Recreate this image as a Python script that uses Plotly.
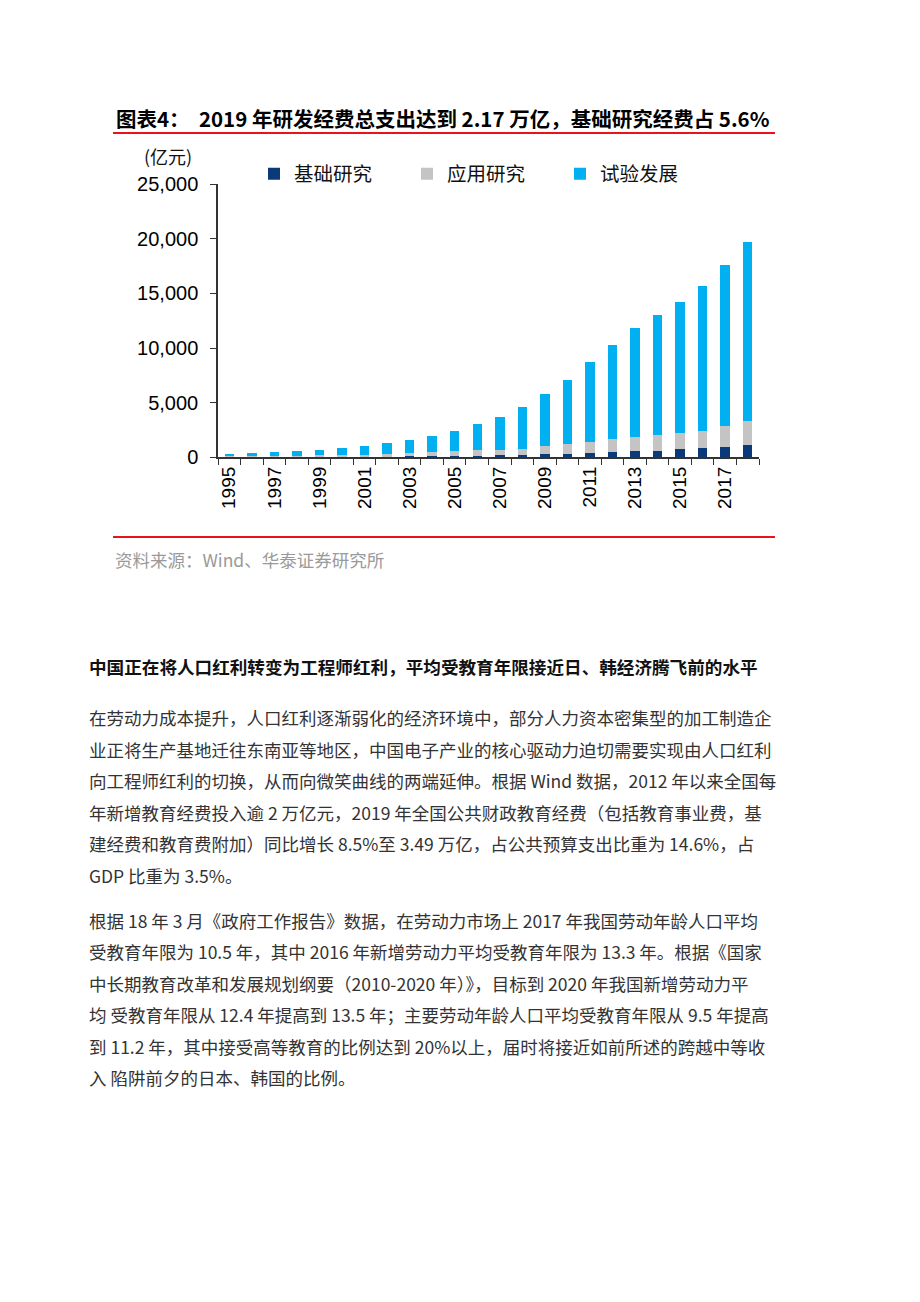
import plotly.graph_objects as go

# ---------------- data ----------------
years = ["1995", "1996", "1997", "1998", "1999", "2000", "2001", "2002", "2003", "2004",
         "2005", "2006", "2007", "2008", "2009", "2010", "2011", "2012", "2013", "2014",
         "2015", "2016", "2017", "2018"]
tick_labels = ["1995", "", "1997", "", "1999", "", "2001", "", "2003", "", "2005", "",
               "2007", "", "2009", "", "2011", "", "2013", "", "2015", "", "2017", ""]
basic = [18.1, 20.2, 27.4, 28.9, 33.9, 46.7, 55.6, 73.8, 87.7, 117.2, 131.2, 155.8,
         174.5, 220.8, 270.3, 324.5, 411.8, 498.8, 555.0, 613.5, 716.1, 822.9, 975.5, 1090.4]
applied = [92.0, 99.1, 132.5, 124.6, 151.6, 151.9, 184.9, 246.7, 311.4, 400.5, 433.5, 489.0,
           492.9, 575.2, 730.8, 893.8, 1028.4, 1162.0, 1269.1, 1398.5, 1528.6, 1610.5, 1849.2, 2190.9]
experimental = [238.6, 285.2, 349.3, 397.6, 493.4, 697.1, 802.0, 967.1, 1140.5, 1448.6, 1885.3,
                2358.3, 3042.8, 3820.0, 4801.0, 5844.3, 7246.8, 8637.6, 10022.5, 11003.6,
                11925.2, 13243.3, 14781.4, 16396.6]
series_names = ["基础研究", "应用研究", "试验发展"]

title_text = "图表4：  2019 年研发经费总支出达到 2.17 万亿，基础研究经费占 5.6%"
unit_text = "(亿元)"
source_text = "资料来源：Wind、华泰证券研究所"
heading_text = "中国正在将人口红利转变为工程师红利，平均受教育年限接近日、韩经济腾飞前的水平"
para1 = [
    "在劳动力成本提升，人口红利逐渐弱化的经济环境中，部分人力资本密集型的加工制造企",
    "业正将生产基地迁往东南亚等地区，中国电子产业的核心驱动力迫切需要实现由人口红利",
    "向工程师红利的切换，从而向微笑曲线的两端延伸。根据 Wind 数据，2012 年以来全国每",
    "年新增教育经费投入逾 2 万亿元，2019 年全国公共财政教育经费（包括教育事业费，基",
    "建经费和教育费附加）同比增长 8.5%至 3.49 万亿，占公共预算支出比重为 14.6%，占",
    "GDP 比重为 3.5%。",
]
para2 = [
    "根据 18 年 3 月《政府工作报告》数据，在劳动力市场上 2017 年我国劳动年龄人口平均",
    "受教育年限为 10.5 年，其中 2016 年新增劳动力平均受教育年限为 13.3 年。根据《国家",
    "中长期教育改革和发展规划纲要（2010-2020 年）》，目标到 2020 年我国新增劳动力平",
    "均 受教育年限从 12.4 年提高到 13.5 年；主要劳动年龄人口平均受教育年限从 9.5 年提高",
    "到 11.2 年，其中接受高等教育的比例达到 20%以上，届时将接近如前所述的跨越中等收",
    "入 陷阱前夕的日本、韩国的比例。",
]

# ---------------- figure ----------------
W, H = 920, 1302
CJK = "Noto Sans CJK SC"
LAT = "Liberation Sans"


def px(x):
    return x / W


def py(y):
    return 1 - y / H


colors = ["#0a3a7a", "#c4c4c4", "#00b0f0"]
fig = go.Figure()
for name, vals, col in zip(series_names, [basic, applied, experimental], colors):
    fig.add_trace(go.Bar(x=years, y=vals, name=name, marker=dict(color=col, line=dict(width=0))))

fig.update_layout(
    width=W, height=H, autosize=False,
    margin=dict(l=0, r=0, t=0, b=0),
    paper_bgcolor="white", plot_bgcolor="white",
    barmode="stack", bargap=0.58,
    font=dict(family=LAT, color="black"),
    showlegend=True,
    legend=dict(orientation="h", x=px(254), y=py(166), xanchor="left", yanchor="middle",
                entrywidth=108, entrywidthmode="pixels", itemwidth=30,
                font=dict(family=CJK, size=19.5, color="#111"), bgcolor="rgba(0,0,0,0)",
                traceorder="normal"),
    xaxis=dict(domain=[px(218), px(759)], type="category",
               tickmode="array", tickvals=years, ticktext=tick_labels,
               tickson="boundaries", ticks="outside", ticklen=6, tickcolor="#333",
               tickangle=-90, tickfont=dict(family=LAT, size=19, color="black"),
               showline=True, linecolor="#333", linewidth=1.5,
               showgrid=False, zeroline=False, fixedrange=True),
    yaxis=dict(domain=[py(454), py(176)], range=[0, 25000], dtick=5000, tickformat=",",
               ticks="outside", ticklen=6, tickcolor="#333",
               tickfont=dict(family=LAT, size=20, color="black"),
               showline=True, linecolor="#333", linewidth=1.5,
               showgrid=False, zeroline=False, fixedrange=True, ticklabelstandoff=8),
)

annotations = []
annotations.append(dict(text="<b>" + title_text + "</b>", x=px(114), y=py(109), xref="paper", yref="paper",
                        xanchor="left", yanchor="middle", showarrow=False,
                        font=dict(family=CJK, size=20.5, color="black")))
annotations.append(dict(text=unit_text, x=px(168), y=py(147), xref="paper", yref="paper",
                        xanchor="center", yanchor="middle", showarrow=False,
                        font=dict(family=CJK, size=18, color="#111")))
annotations.append(dict(text=source_text, x=px(113), y=py(558), xref="paper", yref="paper",
                        xanchor="left", yanchor="middle", showarrow=False,
                        font=dict(family=CJK, size=17.5, color="#9a9a9a")))
annotations.append(dict(text="<b>" + heading_text + "</b>", x=px(87), y=py(667), xref="paper", yref="paper",
                        xanchor="left", yanchor="middle", showarrow=False,
                        font=dict(family=CJK, size=17.6, color="#111")))
for i, line in enumerate(para1):
    annotations.append(dict(text=line, x=px(87), y=py(719 + 32 * i), xref="paper", yref="paper",
                            xanchor="left", yanchor="middle", showarrow=False,
                            font=dict(family=CJK, size=17.5, color="#333")))
for i, line in enumerate(para2):
    annotations.append(dict(text=line, x=px(87), y=py(925 + 32 * i), xref="paper", yref="paper",
                            xanchor="left", yanchor="middle", showarrow=False,
                            font=dict(family=CJK, size=17.5, color="#333")))
fig.update_layout(annotations=annotations)

shapes = [
    dict(type="line", xref="paper", yref="paper", x0=px(113), x1=px(775), y0=py(124), y1=py(124),
         line=dict(color="#e8141b", width=2)),
    dict(type="line", xref="paper", yref="paper", x0=px(113), x1=px(775), y0=py(535), y1=py(535),
         line=dict(color="#e8141b", width=2)),
]
fig.update_layout(shapes=shapes)

fig.write_html("out.html", config={"displayModeBar": False})
